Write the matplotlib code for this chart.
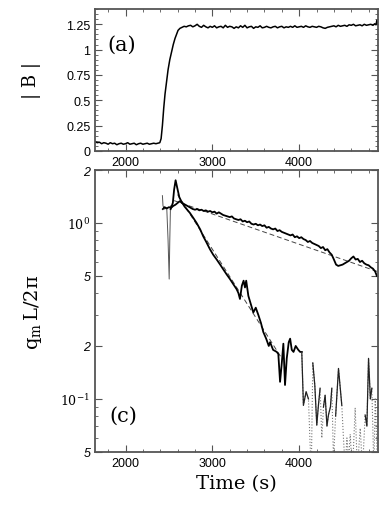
import numpy as np
import matplotlib
matplotlib.use("Agg")
import matplotlib.pyplot as plt
from matplotlib.ticker import MultipleLocator, LogLocator, NullFormatter

plt.rcParams["mathtext.fontset"] = "dejavuserif"

# panel (a): |B| versus time
b_time = [1650, 1675, 1700, 1725, 1750, 1775, 1800, 1825, 1850, 1875, 1900, 1925, 1950,
          1975, 2000, 2025, 2050, 2075, 2100, 2125, 2150, 2175, 2200, 2225, 2250, 2275,
          2300, 2325, 2350, 2375, 2395, 2410, 2425, 2440, 2455, 2473, 2490, 2510, 2531,
          2550, 2570, 2588, 2605, 2627, 2650, 2675, 2700, 2725, 2750, 2775, 2800, 2825,
          2850, 2875, 2900, 2925, 2950, 2975, 3000, 3025, 3050, 3075, 3100, 3125, 3150,
          3175, 3200, 3225, 3250, 3275, 3300, 3325, 3350, 3375, 3400, 3425, 3450, 3475,
          3500, 3525, 3550, 3575, 3600, 3625, 3650, 3675, 3700, 3725, 3750, 3775, 3800,
          3825, 3850, 3875, 3900, 3925, 3950, 3975, 4000, 4025, 4050, 4075, 4100, 4125,
          4150, 4175, 4200, 4225, 4250, 4275, 4300, 4325, 4350, 4375, 4400, 4425, 4450,
          4475, 4500, 4525, 4550, 4575, 4600, 4625, 4650, 4675, 4700, 4725, 4750, 4775,
          4800, 4825, 4850, 4870, 4885, 4895, 4905]
b_val = [0.09, 0.08, 0.085, 0.07, 0.08, 0.075, 0.065, 0.08, 0.07, 0.075, 0.06, 0.07, 0.075,
         0.065, 0.07, 0.08, 0.065, 0.07, 0.075, 0.06, 0.07, 0.075, 0.065, 0.07, 0.075, 0.065,
         0.07, 0.075, 0.07, 0.075, 0.08, 0.12, 0.25, 0.42, 0.56, 0.68, 0.80, 0.90, 0.98,
         1.05, 1.11, 1.15, 1.19, 1.21, 1.22, 1.23, 1.225, 1.235, 1.24, 1.225, 1.235, 1.25,
         1.23, 1.22, 1.24, 1.225, 1.215, 1.23, 1.22, 1.235, 1.215, 1.225, 1.23, 1.215, 1.24,
         1.22, 1.23, 1.225, 1.21, 1.225, 1.215, 1.235, 1.22, 1.24, 1.215, 1.225, 1.23, 1.21,
         1.225, 1.22, 1.235, 1.215, 1.22, 1.23, 1.22, 1.215, 1.225, 1.23, 1.215, 1.225, 1.23,
         1.215, 1.225, 1.22, 1.23, 1.22, 1.235, 1.22, 1.225, 1.23, 1.22, 1.235, 1.225, 1.22,
         1.23, 1.225, 1.22, 1.23, 1.225, 1.215, 1.21, 1.22, 1.225, 1.23, 1.235, 1.225, 1.24,
         1.23, 1.235, 1.24, 1.23, 1.245, 1.24, 1.25, 1.235, 1.24, 1.245, 1.235, 1.25, 1.24,
         1.245, 1.25, 1.24, 1.255, 1.245, 1.29, 1.25]

# panel (c): slowly decaying mode
slow_time = [2430, 2450, 2475, 2500, 2525, 2550, 2575, 2600, 2625, 2650, 2675, 2700, 2725,
             2750, 2775, 2800, 2825, 2850, 2875, 2900, 2925, 2950, 2975, 3000, 3025, 3050,
             3075, 3100, 3125, 3150, 3175, 3200, 3225, 3250, 3275, 3300, 3325, 3350, 3375,
             3400, 3425, 3450, 3475, 3500, 3525, 3550, 3575, 3600, 3625, 3650, 3675, 3700,
             3725, 3750, 3775, 3800, 3825, 3850, 3875, 3900, 3925, 3950, 3975, 4000, 4025,
             4050, 4075, 4100, 4125, 4150, 4175, 4200, 4225, 4250, 4275, 4300, 4325, 4350,
             4375, 4400, 4425, 4450, 4475, 4500, 4525, 4550, 4575, 4600, 4625, 4650, 4675,
             4700, 4725, 4750, 4775, 4800, 4825, 4850, 4875, 4895]
slow_q = [1.20, 1.23, 1.21, 1.23, 1.22, 1.25, 1.27, 1.30, 1.33, 1.30, 1.28, 1.26, 1.24,
          1.22, 1.20, 1.19, 1.20, 1.18, 1.19, 1.17, 1.18, 1.16, 1.17, 1.15, 1.16, 1.13,
          1.15, 1.13, 1.11, 1.10, 1.09, 1.08, 1.09, 1.06, 1.05, 1.04, 1.05, 1.02, 1.03,
          1.01, 1.02, 0.99, 0.98, 0.99, 0.97, 0.98, 0.96, 0.97, 0.94, 0.95, 0.93, 0.92,
          0.93, 0.90, 0.91, 0.89, 0.88, 0.87, 0.86, 0.85, 0.86, 0.83, 0.84, 0.82, 0.83,
          0.81, 0.80, 0.78, 0.79, 0.77, 0.76, 0.75, 0.74, 0.72, 0.73, 0.70, 0.71, 0.68,
          0.66, 0.62, 0.58, 0.57, 0.575, 0.58, 0.59, 0.60, 0.61, 0.63, 0.645, 0.62, 0.625,
          0.60, 0.61, 0.59, 0.58, 0.575, 0.56, 0.55, 0.53, 0.50]

# panel (c): fast decaying mode (with the overshoot near 2577 s)
fast_time = [2520, 2545, 2560, 2577, 2600, 2620, 2646, 2680, 2710, 2742, 2780, 2819, 2860,
             2895, 2930, 2972, 3010, 3050, 3090, 3126, 3165, 3203, 3240, 3280, 3300, 3318,
             3340, 3360, 3376, 3390, 3415, 3440, 3472, 3500, 3530, 3560, 3587, 3620, 3650,
             3665, 3700, 3742, 3760, 3780, 3800, 3818, 3837, 3857, 3880, 3896, 3915, 3935,
             3960, 3990, 4011, 4030]
fast_q = [1.20, 1.30, 1.55, 1.75, 1.55, 1.40, 1.32, 1.24, 1.19, 1.14, 1.07, 1.00, 0.92,
          0.84, 0.78, 0.71, 0.66, 0.62, 0.58, 0.545, 0.51, 0.48, 0.45, 0.42, 0.40, 0.37,
          0.44, 0.47, 0.43, 0.47, 0.385, 0.35, 0.31, 0.33, 0.30, 0.27, 0.24, 0.22, 0.20,
          0.21, 0.19, 0.185, 0.18, 0.125, 0.16, 0.206, 0.12, 0.17, 0.21, 0.22, 0.19, 0.185,
          0.20, 0.19, 0.185, 0.185]

# noisy tail of the fast mode, near the noise floor
tail_time = [4030, 4049, 4080, 4107, 4126, 4140, 4157, 4180, 4203, 4220, 4241, 4261, 4280,
             4299, 4320, 4337, 4360, 4376, 4395, 4420, 4453, 4470, 4491, 4510, 4530, 4550,
             4570, 4588, 4610, 4625, 4645, 4670, 4703, 4730, 4760, 4780, 4799, 4820, 4837,
             4860, 4876, 4900]
tail_q = [0.185, 0.092, 0.11, 0.10, 0.055, 0.04, 0.16, 0.12, 0.071, 0.09, 0.115, 0.06, 0.09,
          0.105, 0.07, 0.081, 0.09, 0.115, 0.045, 0.08, 0.149, 0.12, 0.092, 0.06, 0.04, 0.06,
          0.045, 0.063, 0.04, 0.052, 0.089, 0.04, 0.068, 0.04, 0.081, 0.07, 0.17, 0.10, 0.115,
          0.04, 0.10, 0.045]

# early transient with the sharp dip
dip_time = [2425, 2432, 2450, 2475, 2490, 2503, 2510, 2518, 2530]
dip_q = [1.43, 1.25, 1.20, 1.22, 0.80, 0.48, 0.80, 1.25, 1.25]

# exponential fits (end points)
fit_slow_time = [2560, 4900]
fit_slow_q = [1.34, 0.53]
fit_fast_time = [2600, 3800]
fit_fast_q = [1.45, 0.17]

tick_font = "Liberation Sans"
label_font = "DejaVu Serif"
spine_col = "#555555"

fig = plt.figure(figsize=(3.82, 5.06), dpi=100)
ax1 = fig.add_axes([0.249, 0.700, 0.741, 0.280])
ax2 = fig.add_axes([0.249, 0.105, 0.741, 0.557])

ax1.plot(b_time, b_val, color="black", lw=1.1)
ax1.set_xlim(1650, 4910)
ax1.set_ylim(0, 1.4)
ax1.xaxis.set_major_locator(MultipleLocator(1000))
ax1.xaxis.set_minor_locator(MultipleLocator(200))
ax1.yaxis.set_major_locator(MultipleLocator(0.25))
ax1.yaxis.set_minor_locator(MultipleLocator(0.05))
ax1.set_yticks([0, 0.25, 0.5, 0.75, 1, 1.25], ["0", "0.25", "0.5", "0.75", "1", "1.25"])
ax1.set_ylabel("| B |", fontfamily=label_font, fontsize=13)
ax1.yaxis.set_label_coords(-0.19, 0.5)
ax1.text(0.045, 0.75, "(a)", transform=ax1.transAxes, fontfamily=label_font,
         fontsize=15, va="center")

ax2.plot(fit_slow_time, fit_slow_q, color="#444444", lw=0.7, ls=(0, (5, 3)))
ax2.plot(fit_fast_time, fit_fast_q, color="#444444", lw=0.7, ls=(0, (5, 3)))
ax2.plot(dip_time, dip_q, color="#555555", lw=0.7)
ax2.plot(slow_time, slow_q, color="black", lw=1.3)
ax2.plot(fast_time, fast_q, color="black", lw=1.3)
tail = np.array(tail_q)
ax2.plot(tail_time, tail, color="#777777", lw=0.8, ls=":")
ax2.plot(tail_time, np.ma.masked_less(tail, 0.065), color="#222222", lw=0.9)
ax2.set_yscale("log")
ax2.set_xlim(1650, 4910)
ax2.set_ylim(0.05, 2)
ax2.xaxis.set_major_locator(MultipleLocator(1000))
ax2.xaxis.set_minor_locator(MultipleLocator(200))
ax2.yaxis.set_minor_locator(LogLocator(base=10, subs=np.arange(2, 10)))
ax2.yaxis.set_minor_formatter(NullFormatter())
ax2.set_yticks([0.05, 0.1, 0.2, 0.5, 1, 2],
               ["5", "$10^{-1}$", "2", "5", "$10^{0}$", "2"])
for lab in ax2.get_yticklabels():
    if "10" in lab.get_text():
        lab.set_fontfamily(label_font)
        lab.set_fontsize(13)
    else:
        lab.set_fontstyle("italic")
ax2.set_ylabel(r"$\mathrm{q_m\,L/2\pi}$", fontsize=14)
ax2.yaxis.set_label_coords(-0.18, 0.5)
ax2.set_xlabel("Time (s)", fontfamily=label_font, fontsize=14)
ax2.text(0.05, 0.13, "(c)", transform=ax2.transAxes, fontfamily=label_font,
         fontsize=15, va="center")

for ax in (ax1, ax2):
    ax.tick_params(which="both", direction="in", top=True, right=True,
                   colors=spine_col, labelcolor="black")
    ax.tick_params(which="major", length=5, labelsize=9)
    ax.tick_params(which="minor", length=2.5)
    for lab in ax.get_xticklabels():
        lab.set_fontfamily(tick_font)
    for lab in ax.get_yticklabels():
        if "10" not in lab.get_text():
            lab.set_fontfamily(tick_font)
    for s in ax.spines.values():
        s.set_color(spine_col)
        s.set_linewidth(1.3)

fig.savefig("out.png", dpi=100)
